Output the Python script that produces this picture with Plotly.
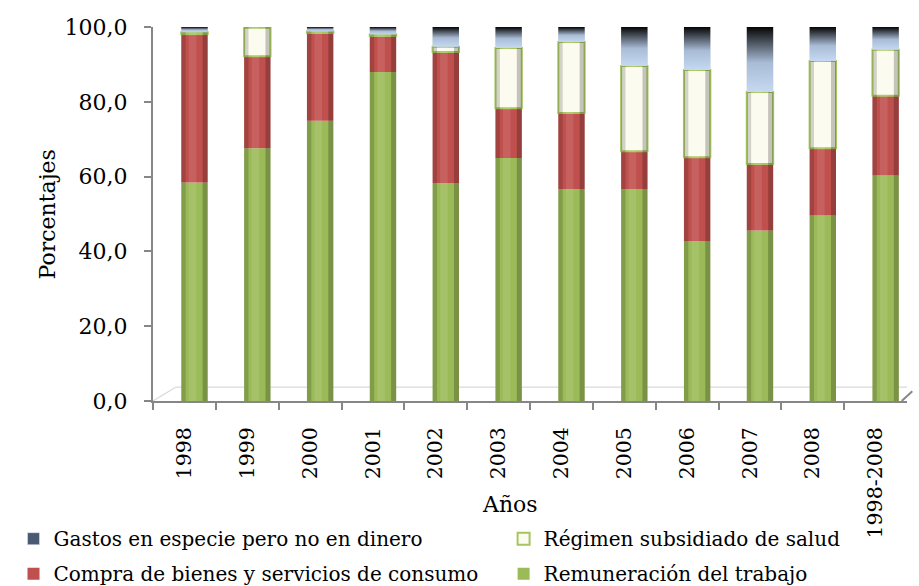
import plotly.graph_objects as go

# Composición porcentual del gasto, 1998-2008
categorias = ['1998', '1999', '2000', '2001', '2002', '2003', '2004',
              '2005', '2006', '2007', '2008', '1998-2008']
remuneracion = [58.4, 67.6, 74.9, 88.0, 58.3, 65.0, 56.7, 56.7, 42.8, 45.6, 49.6, 60.3]
compra = [39.7, 24.6, 23.5, 9.6, 35.0, 13.3, 20.3, 10.1, 22.4, 17.8, 18.0, 21.3]
regimen = [0.5, 7.6, 0.4, 0.4, 1.4, 16.1, 19.0, 22.8, 23.3, 19.2, 23.3, 12.3]
gastos = [1.4, 0.2, 1.2, 2.0, 5.3, 5.6, 4.0, 10.4, 11.5, 17.4, 9.1, 6.1]
ticks_y = [0, 20, 40, 60, 80, 100]

FONT = "DejaVu Serif"
AXIS = "#868686"
W = 0.42          # ancho de cada columna (en unidades de categoría)
SHIFT = 0.16      # desplazamiento de la columna respecto al centro de la categoría

xs = list(range(len(categorias)))
base_compra = list(remuneracion)
base_regimen = [a + b for a, b in zip(remuneracion, compra)]
base_gastos = [a + b for a, b in zip(base_regimen, regimen)]
total = [a + b for a, b in zip(base_gastos, gastos)]

fig = go.Figure()

def barra(nombre, valores, bases, color, linea=None, leyenda="legend", grupo=None, rango=1):
    fig.add_trace(go.Bar(
        x=xs, y=valores, base=bases, name=nombre, width=W,
        offset=-W / 2 + SHIFT,
        marker=dict(color=color,
                    line=dict(color=linea or color, width=2 if linea else 0)),
        legend=leyenda, legendgroup=grupo, legendrank=rango, hoverinfo="skip"))

barra("Remuneración del trabajo", remuneracion, [0] * len(xs), "#9BBB59",
      leyenda="legend2", grupo="rem", rango=2)
barra("Compra de bienes y servicios de consumo", compra, base_compra, "#C0504D",
      leyenda="legend", grupo="com", rango=2)

# Gastos en especie: degradado de azul claro a negro en cada columna
for i in xs:
    x0 = i - W / 2 + SHIFT
    x1 = i + W / 2 + SHIFT
    y0, y1 = base_gastos[i], total[i]
    fig.add_trace(go.Scatter(
        x=[x0, x1, x1, x0, x0], y=[y0, y0, y1, y1, y0],
        mode="lines", line=dict(width=0), fill="toself",
        fillgradient=dict(type="vertical",
                          colorscale=[[0, "#C6D9F1"], [0.45, "#A9BCD6"], [1, "#050505"]]),
        showlegend=False, hoverinfo="skip"))

barra("Régimen subsidiado de salud", regimen, base_regimen, "#FBFBEF", linea="#A6C560",
      leyenda="legend2", grupo="reg", rango=1)

# Entrada de leyenda para los gastos en especie
fig.add_trace(go.Bar(x=[None], y=[None], name="Gastos en especie pero no en dinero",
                     marker=dict(color="#4A5A74"), legend="legend", legendgroup="gas",
                     legendrank=1, hoverinfo="skip"))

# Sombreado cilíndrico: bordes oscuros y brillo central
for dx, ancho, col in [(-W / 2 + 0.0, 0.07, "rgba(0,0,0,0.16)"),
                       (W / 2 - 0.08, 0.08, "rgba(0,0,0,0.22)"),
                       (-0.09, 0.12, "rgba(255,255,255,0.10)")]:
    fig.add_trace(go.Bar(x=xs, y=total, base=[0] * len(xs), width=ancho,
                         offset=dx + SHIFT, marker=dict(color=col, line=dict(width=0)),
                         showlegend=False, hoverinfo="skip"))

# Suelo en perspectiva
fig.add_shape(type="line", xref="paper", yref="y", x0=0.03, x1=1.0, y0=3.7, y1=3.7,
              line=dict(color="#D9D9D9", width=1.2), layer="below")
fig.add_shape(type="line", xref="paper", yref="y", x0=0.0, x1=0.03, y0=0, y1=3.7,
              line=dict(color="#D9D9D9", width=1.2), layer="below")
fig.add_shape(type="line", xref="paper", yref="y", x0=0.993, x1=1.007, y0=0, y1=2.6,
              line=dict(color=AXIS, width=2), layer="below")

leyenda_base = dict(orientation="v", yanchor="top", xanchor="left",
                    font=dict(family=FONT, size=20), itemwidth=30,
                    bgcolor="rgba(0,0,0,0)", tracegroupgap=6, traceorder="grouped")

fig.update_layout(
    width=919, height=586,
    margin=dict(l=153, r=12, t=27, b=185, autoexpand=False),
    paper_bgcolor="white", plot_bgcolor="white",
    barmode="overlay", separators=",.",
    font=dict(family=FONT, color="#000000"),
    showlegend=True,
    legend=dict(leyenda_base, x=-0.185, y=-0.316),
    legend2=dict(leyenda_base, x=0.465, y=-0.316),
    xaxis=dict(range=[-0.5, len(xs) - 0.5], tickmode="array", tickvals=xs,
               ticktext=categorias, tickangle=-90, ticks="", ticklabelstandoff=16,
               tickfont=dict(family=FONT, size=20.5),
               showline=True, linecolor=AXIS, linewidth=2, showgrid=False,
               zeroline=False, automargin=False,
               minor=dict(tickmode="array", tickvals=[i + 0.5 for i in xs[:-1]] + [-0.5],
                          ticks="outside", ticklen=7, tickwidth=2, tickcolor=AXIS)),
    yaxis=dict(range=[0, 100], tickmode="array", tickvals=ticks_y, tickformat=".1f",
               ticks="outside", ticklen=7, tickwidth=2, tickcolor=AXIS,
               tickfont=dict(family=FONT, size=22), ticklabelstandoff=12,
               showline=True, linecolor=AXIS, linewidth=2, showgrid=False,
               zeroline=False, automargin=False),
    annotations=[
        dict(text="Porcentajes", xref="paper", yref="paper", x=-0.14, y=0.5,
             textangle=-90, showarrow=False, font=dict(family=FONT, size=22),
             xanchor="center", yanchor="middle"),
        dict(text="Años", xref="paper", yref="paper", x=0.474, y=-0.278,
             showarrow=False, font=dict(family=FONT, size=22),
             xanchor="center", yanchor="middle"),
    ],
)

fig.write_html("out.html")
